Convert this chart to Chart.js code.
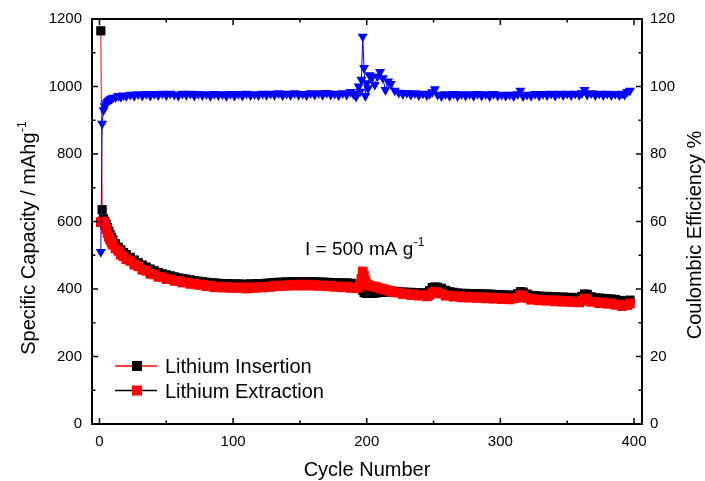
<!DOCTYPE html>
<html>
<head>
<meta charset="utf-8">
<script src="https://cdn.jsdelivr.net/npm/chart.js@4.4.0/dist/chart.umd.min.js"></script>
<style>
  html, body { margin: 0; padding: 0; background: #fff; }
  canvas { display: block; }
</style>
</head>
<body>
<canvas id="capacity-chart" width="705" height="481"></canvas>
<script>
// cycle numbers that were sampled
const cycles = [
    1, 2, 3, 4, 5, 6, 7, 8, 9, 10,
    12, 14, 16, 18, 20, 23, 26, 29, 32, 35,
    38, 41, 44, 47, 50, 53, 56, 59, 62, 65,
    68, 71, 74, 77, 80, 83, 86, 89, 92, 95,
    98, 101, 104, 107, 110, 113, 116, 119, 122, 125,
    128, 131, 134, 137, 140, 143, 146, 149, 152, 155,
    158, 161, 164, 167, 170, 173, 176, 179, 182, 185,
    188, 190, 192, 194, 195, 196, 197, 198, 199, 200,
    201, 202, 204, 206, 208, 210, 212, 214, 216, 218,
    221, 224, 227, 230, 233, 236, 239, 242, 245, 247,
    249, 251, 253, 256, 259, 262, 265, 268, 271, 274,
    277, 280, 283, 286, 289, 292, 295, 298, 301, 304,
    307, 310, 313, 315, 317, 320, 323, 326, 329, 332,
    335, 338, 341, 344, 347, 350, 353, 356, 359, 361,
    363, 365, 368, 371, 374, 377, 380, 383, 386, 389,
    391, 393, 395, 397
];

// mAh/g
const insertion = [
    1165, 635, 608, 600, 592, 582, 571, 561, 553, 546,
    534, 524, 516, 508, 502, 494, 486, 478, 471, 465,
    459, 454, 449, 445, 442, 439, 436, 433, 431, 429,
    427, 425, 423, 422, 420, 419, 418, 417, 416, 416,
    415, 415, 415, 414, 414, 415, 415, 416, 416, 417,
    418, 419, 420, 420, 421, 421, 422, 422, 422, 422,
    422, 421, 421, 420, 420, 419, 419, 418, 418, 418,
    417, 416, 415, 414, 412, 402, 396, 390, 388, 387,
    387, 387, 387, 388, 389, 390, 390, 391, 392, 393,
    393, 392, 391, 390, 390, 389, 389, 388, 388, 395,
    404, 406, 405, 402, 396, 392, 390, 388, 387, 387,
    386, 386, 386, 385, 385, 385, 384, 383, 383, 382,
    382, 381, 386, 392, 391, 385, 381, 380, 379, 378,
    378, 377, 377, 376, 376, 375, 375, 374, 374, 378,
    385, 384, 377, 374, 373, 372, 371, 370, 369, 366,
    364, 363, 365, 367
];

const extraction = [
    598, 600, 598, 590, 578, 566, 555, 546, 538, 531,
    520, 513, 501, 497, 488, 483, 472, 467, 457, 454,
    445, 443, 436, 435, 429, 429, 424, 424, 419, 420,
    415, 416, 412, 413, 408, 410, 405, 407, 404, 406,
    403, 405, 403, 405, 401, 405, 403, 406, 404, 407,
    406, 410, 408, 411, 409, 412, 410, 413, 410, 413,
    410, 412, 409, 411, 408, 410, 406, 408, 405, 407,
    403, 405, 402, 406, 415, 430, 452, 440, 425, 415,
    412, 410, 408, 407, 405, 402, 400, 398, 396, 394,
    390, 390, 385, 386, 382, 384, 380, 382, 378, 382,
    388, 392, 390, 386, 380, 381, 377, 379, 375, 378,
    374, 377, 373, 376, 372, 375, 371, 374, 370, 373,
    369, 372, 374, 382, 380, 373, 368, 370, 366, 368,
    365, 367, 363, 366, 362, 365, 361, 363, 360, 365,
    372, 370, 362, 362, 358, 360, 356, 358, 353, 354,
    349, 352, 352, 357
];

// %
const efficiency = [
    51, 89, 93.0, 94.2, 95.0, 95.5, 95.9, 96.2, 96.4, 96.6,
    96.8, 97.2, 96.9, 97.4, 97.1, 97.6, 97.2, 97.7, 97.3, 97.8,
    97.3, 97.8, 97.4, 97.9, 97.4, 97.9, 97.6, 97.3, 97.9, 97.5,
    97.9, 97.3, 97.8, 97.4, 97.7, 97.2, 97.8, 97.4, 97.7, 97.2,
    97.8, 97.3, 97.8, 97.3, 97.9, 97.4, 97.7, 97.4, 97.9, 97.5,
    97.9, 97.5, 98.0, 97.4, 97.9, 97.5, 98.0, 97.5, 97.8, 97.4,
    98.0, 97.6, 98.0, 97.5, 98.1, 97.6, 97.9, 97.4, 98.0, 97.6,
    98.4, 97.8, 97.0, 100.0, 98.5, 102.0, 114.8, 105.5, 97.2, 101.0,
    99.5, 103.4, 102.8, 100.5, 103.0, 104.3, 102.5, 99.0, 101.5, 100.8,
    98.8, 98.2, 97.8, 98.1, 97.6, 98.0, 97.4, 97.9, 97.4, 97.8,
    98.3, 99.2, 97.6, 97.1, 97.7, 97.2, 97.8, 97.1, 97.7, 97.3,
    97.7, 97.2, 97.8, 97.3, 97.7, 97.1, 97.8, 97.3, 97.6, 97.2,
    97.6, 97.1, 97.7, 98.8, 97.1, 97.6, 97.2, 97.8, 97.3, 97.8,
    97.4, 97.9, 97.3, 97.9, 97.4, 97.9, 97.4, 97.9, 97.5, 98.0,
    99.0, 97.6, 98.0, 97.4, 97.9, 97.4, 97.9, 97.4, 97.8, 97.4,
    97.9, 97.6, 98.4, 98.8
];

const cycleTicks = [0, 50, 100, 150, 200, 250, 300, 350, 400];
const capacityTicks = [0, 100, 200, 300, 400, 500, 600, 700, 800, 900, 1000, 1100, 1200];
const efficiencyTicks = [0, 10, 20, 30, 40, 50, 60, 70, 80, 90, 100, 110, 120];

const FONT = '"Liberation Sans", Arial, sans-serif';

const toPoints = values => cycles.map((c, i) => ({ x: c, y: values[i] }));

// text with a small raised suffix, e.g. "g" + "-1"
function drawWithSup(ctx, text, sup, x, y, size, supSize, rise) {
    ctx.font = `${size}px ${FONT}`;
    ctx.fillText(text, x, y);
    const w = ctx.measureText(text).width;
    ctx.font = `${supSize}px ${FONT}`;
    ctx.fillText(sup, x + w + 0.5, y - rise);
}

function measureWithSup(ctx, text, sup, size, supSize) {
    ctx.font = `${size}px ${FONT}`;
    const w1 = ctx.measureText(text).width;
    ctx.font = `${supSize}px ${FONT}`;
    return w1 + 0.5 + ctx.measureText(sup).width;
}

const framePlugin = {
    id: 'framePlugin',
    afterDraw(chart) {
        const { ctx, chartArea: a, scales } = chart;
        ctx.save();
        ctx.strokeStyle = '#000';
        ctx.fillStyle = '#000';

        // box
        ctx.lineWidth = 2;
        ctx.strokeRect(a.left, a.top, a.right - a.left, a.bottom - a.top);

        // inward tick marks on all four sides
        ctx.lineWidth = 1.5;
        ctx.beginPath();
        cycleTicks.forEach(v => {
            const px = scales.x.getPixelForValue(v);
            const len = v % 100 === 0 ? 6 : 3.5;
            ctx.moveTo(px, a.bottom);
            ctx.lineTo(px, a.bottom - len);
            ctx.moveTo(px, a.top);
            ctx.lineTo(px, a.top + len);
        });
        capacityTicks.forEach(v => {
            const py = scales.y.getPixelForValue(v);
            const len = v % 200 === 0 ? 6 : 3.5;
            ctx.moveTo(a.left, py);
            ctx.lineTo(a.left + len, py);
        });
        efficiencyTicks.forEach(v => {
            const py = scales.y1.getPixelForValue(v);
            const len = v % 20 === 0 ? 6 : 3.5;
            ctx.moveTo(a.right, py);
            ctx.lineTo(a.right - len, py);
        });
        ctx.stroke();

        ctx.textBaseline = 'alphabetic';
        ctx.textAlign = 'left';

        // axis titles
        ctx.font = `20px ${FONT}`;
        ctx.textAlign = 'center';
        ctx.fillText('Cycle Number', (a.left + a.right) / 2, 476);
        ctx.textAlign = 'left';

        ctx.save();
        ctx.translate(35, 238);
        ctx.rotate(-Math.PI / 2);
        let w = measureWithSup(ctx, 'Specific Capacity / mAhg', '-1', 20, 12);
        drawWithSup(ctx, 'Specific Capacity / mAhg', '-1', -w / 2, 0, 20, 12, 9);
        ctx.restore();

        ctx.save();
        ctx.translate(701, 235);
        ctx.rotate(-Math.PI / 2);
        ctx.font = `20px ${FONT}`;
        ctx.textAlign = 'center';
        ctx.fillText('Coulombic Efficiency %', 0, 0);
        ctx.restore();

        // current density note
        drawWithSup(ctx, 'I = 500 mA g', '-1', 305, 255, 19, 12, 9);

        // legend
        const rows = [
            { label: 'Lithium Insertion', line: '#ff0000', mark: '#000000', y: 366 },
            { label: 'Lithium Extraction', line: '#000000', mark: '#ff0000', y: 390.5 }
        ];
        rows.forEach(r => {
            ctx.strokeStyle = r.line;
            ctx.lineWidth = 1.5;
            ctx.beginPath();
            ctx.moveTo(115, r.y);
            ctx.lineTo(157, r.y);
            ctx.stroke();
            ctx.fillStyle = r.mark;
            ctx.fillRect(132, r.y - 5, 10, 10);
            ctx.fillStyle = '#000';
            ctx.font = `20px ${FONT}`;
            ctx.fillText(r.label, 165, r.y + 7);
        });

        ctx.restore();
    }
};

const tickFont = { family: FONT, size: 15 };

new Chart(document.getElementById('capacity-chart').getContext('2d'), {
    type: 'line',
    data: {
        datasets: [{
            label: 'Coulombic Efficiency',
            data: toPoints(efficiency),
            yAxisID: 'y1',
            borderColor: '#0000ff',
            backgroundColor: '#0000ff',
            borderWidth: 1,
            pointStyle: 'triangle',
            pointRotation: 180,
            pointRadius: 5.8,
            pointBorderWidth: 0,
            order: 0
        }, {
            label: 'Lithium Extraction',
            data: toPoints(extraction),
            yAxisID: 'y',
            borderColor: '#000000',
            backgroundColor: '#ff0000',
            pointBackgroundColor: '#ff0000',
            borderWidth: 1,
            pointStyle: 'rect',
            pointRadius: 6.8,
            pointBorderWidth: 0,
            order: 1
        }, {
            label: 'Lithium Insertion',
            data: toPoints(insertion),
            yAxisID: 'y',
            borderColor: '#ff0000',
            backgroundColor: '#000000',
            pointBackgroundColor: '#000000',
            borderWidth: 1,
            pointStyle: 'rect',
            pointRadius: 6.5,
            pointBorderWidth: 0,
            order: 2
        }]
    },
    options: {
        responsive: false,
        animation: false,
        events: [],
        devicePixelRatio: 1,
        layout: { padding: { top: 19, left: 0, right: 0, bottom: 0 } },
        plugins: {
            legend: { display: false },
            tooltip: { enabled: false }
        },
        scales: {
            x: {
                type: 'linear',
                min: -5.6,
                max: 406,
                grid: { display: false, drawTicks: false },
                border: { display: false },
                afterBuildTicks: s => { s.ticks = cycleTicks.map(v => ({ value: v })); },
                afterFit: s => { s.height = 57; },
                ticks: {
                    autoSkip: false,
                    maxRotation: 0,
                    padding: 9,
                    color: '#000',
                    font: tickFont,
                    callback: v => (v % 100 === 0 ? String(v) : '')
                }
            },
            y: {
                type: 'linear',
                position: 'left',
                min: 0,
                max: 1200,
                grid: { display: false, drawTicks: false },
                border: { display: false },
                afterBuildTicks: s => { s.ticks = capacityTicks.map(v => ({ value: v })); },
                afterFit: s => { s.width = 92; },
                ticks: {
                    padding: 10,
                    color: '#000',
                    font: tickFont,
                    callback: v => (v % 200 === 0 ? String(v) : '')
                }
            },
            y1: {
                type: 'linear',
                position: 'right',
                min: 0,
                max: 120,
                grid: { display: false, drawTicks: false },
                border: { display: false },
                afterBuildTicks: s => { s.ticks = efficiencyTicks.map(v => ({ value: v })); },
                afterFit: s => { s.width = 63; },
                ticks: {
                    padding: 8,
                    color: '#000',
                    font: tickFont,
                    callback: v => (v % 20 === 0 ? String(v) : '')
                }
            }
        }
    },
    plugins: [framePlugin]
});
</script>
</body>
</html>
